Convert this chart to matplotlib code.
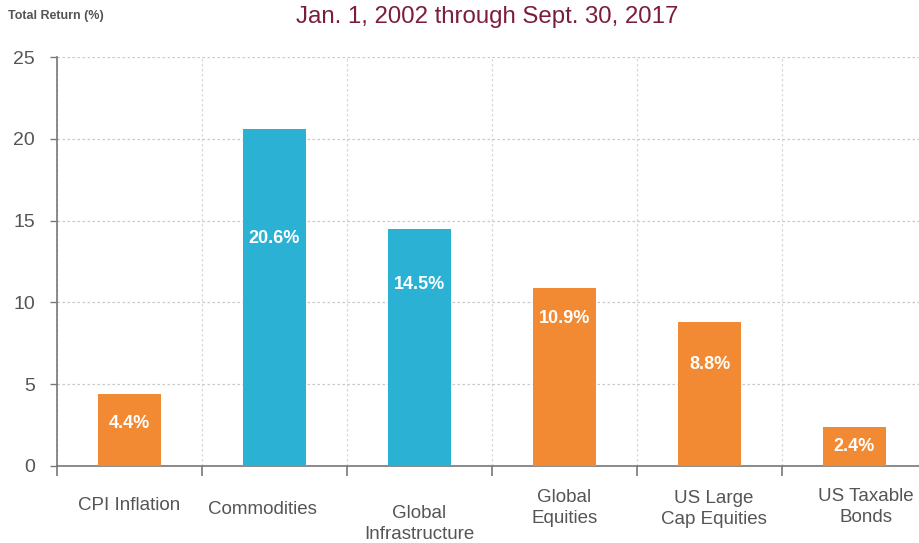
import numpy as np
import matplotlib.pyplot as plt

plt.rcParams['font.family'] = ['Liberation Sans', 'DejaVu Sans']

# asset classes and total returns (%)
categories = ["CPI Inflation", "Commodities", "Global\nInfrastructure",
              "Global\nEquities", "US Large\nCap Equities", "US Taxable\nBonds"]
returns = [4.4, 20.6, 14.5, 10.9, 8.8, 2.4]
value_labels = ["4.4%", "20.6%", "14.5%", "10.9%", "8.8%", "2.4%"]
real_assets = [False, True, True, False, False, False]

# where the labels sit
label_y = [2.6, 13.9, 11.1, 9.0, 6.2, 1.2]
cat_dx = [0.0, -0.08, 0.0, 0.0, 0.03, 0.08]
cat_y_px = [505, 510, 524, 508, 509, 507]

orange = "#F28A33"
blue = "#2BB1D3"
grey = "#555555"

fig = plt.figure(figsize=(9.19, 5.43), dpi=100)
ax = fig.add_axes([57/919, 77/543, 870/919, 409/543])

x = np.arange(len(categories))
cols = [blue if r else orange for r in real_assets]
ax.bar(x, returns, width=0.435, color=cols, zorder=3)

for i in range(len(x)):
    ax.text(x[i], label_y[i], value_labels[i], ha='center', va='center',
            color='white', fontsize=13, fontweight='bold', zorder=4)

# category names below the axis, in figure coords
for i in range(len(x)):
    xf = (57 + (x[i] + cat_dx[i] + 0.5) * 145) / 919
    fig.text(xf, 1 - cat_y_px[i]/543, categories[i], ha='center', va='center',
             color=grey, fontsize=13.5, linespacing=1.25)

ax.set_xlim(-0.5, 5.5)
ax.set_ylim(0, 25)
ax.set_yticks([0, 5, 10, 15, 20, 25])
ax.set_xticks([])
ax.set_xticks(np.arange(-0.5, 6, 1), minor=True)
ax.tick_params(axis='x', which='minor', length=7, width=1.2, color='#777777')
ax.tick_params(axis='y', length=5, width=1, color='#777777', labelsize=14,
               labelcolor=grey, pad=11)

ax.grid(axis='y', linestyle=(0, (2, 2)), color='#c8c8c8', linewidth=0.9, zorder=0)
ax.grid(axis='x', which='minor', linestyle=(0, (2, 2)), color='#d8d8d8',
        linewidth=0.9, zorder=0)

for s in ['top', 'right']:
    ax.spines[s].set_visible(False)
for s in ['left', 'bottom']:
    ax.spines[s].set_color('#777777')
    ax.spines[s].set_linewidth(1.2)

fig.text(8/919, 1 - 16/543, "Total Return (%)", ha='left', va='center',
         color=grey, fontsize=9, fontweight='bold')
fig.text(487/919, 1 - 17/543, "Jan. 1, 2002 through Sept. 30, 2017",
         ha='center', va='center', color='#7B1D3F', fontsize=17.3)

fig.savefig("out.png", dpi=100)
